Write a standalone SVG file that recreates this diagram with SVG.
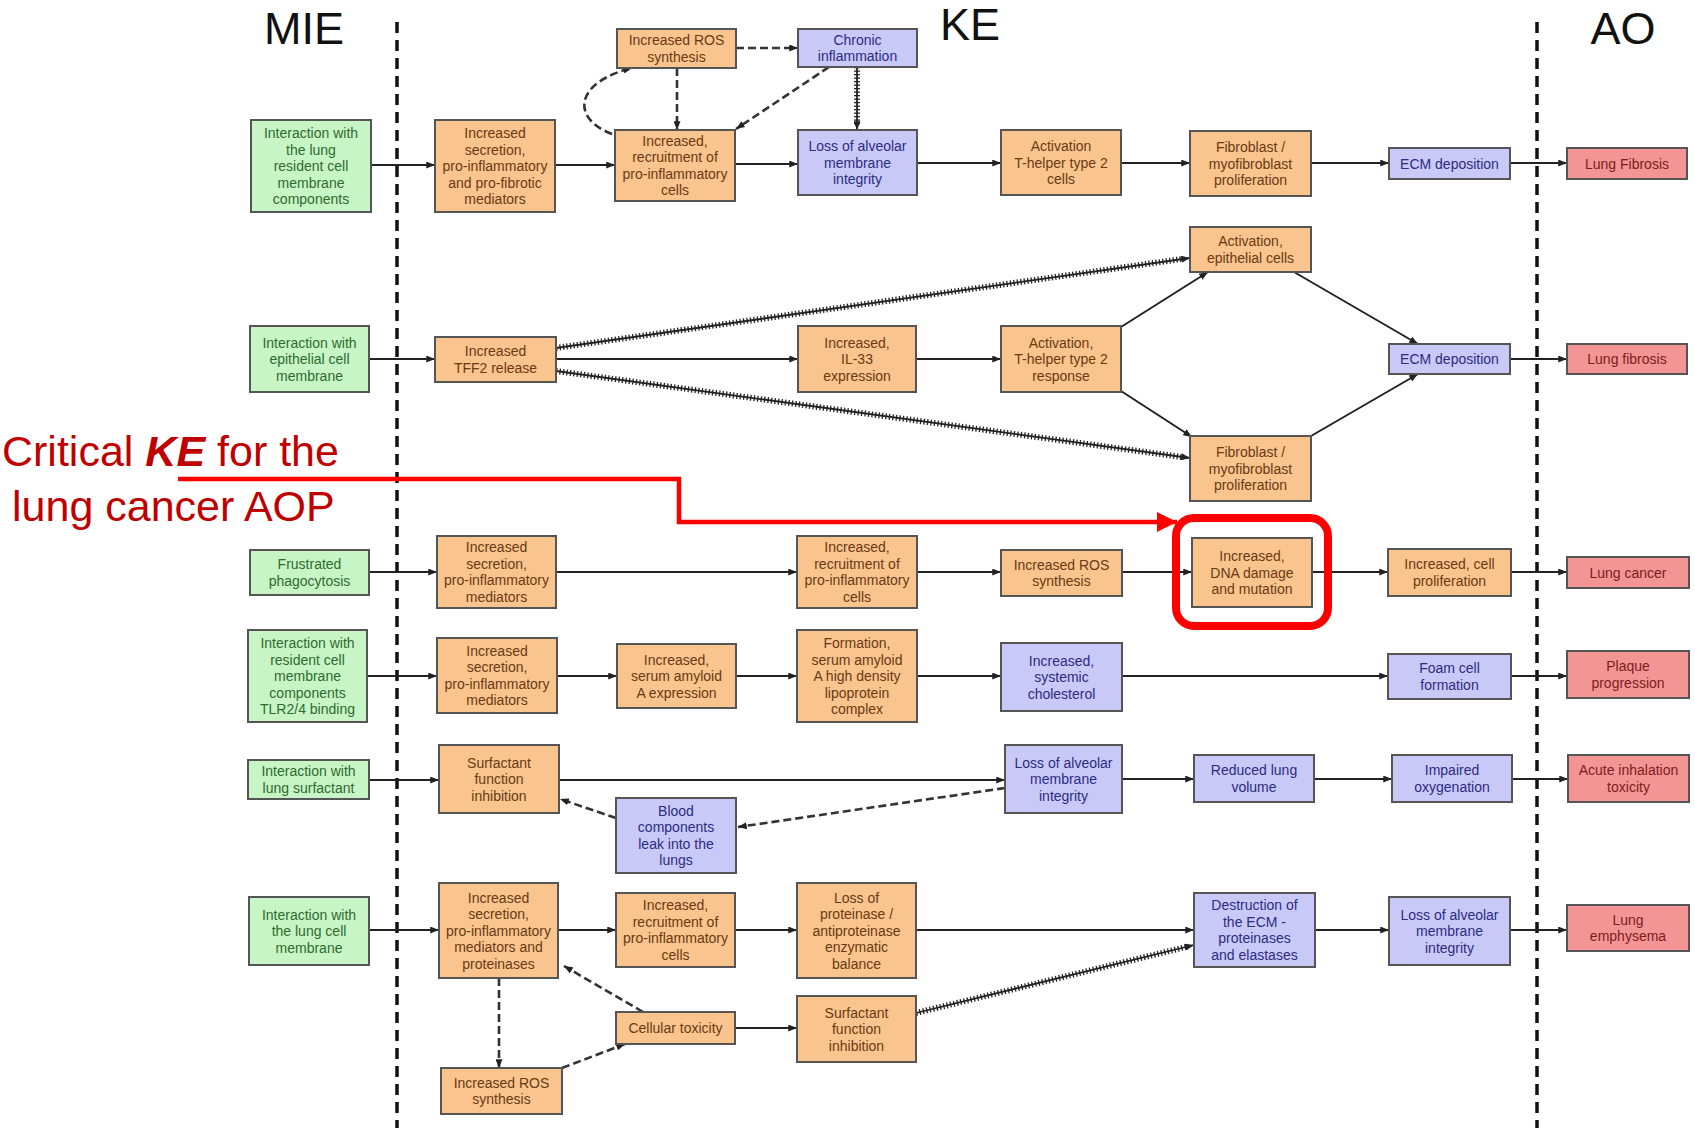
<svg xmlns="http://www.w3.org/2000/svg" width="1695" height="1128" viewBox="0 0 1695 1128">
  <defs>
    <marker id="arr" viewBox="0 0 10 8" refX="10" refY="4" markerWidth="9" markerHeight="7" markerUnits="userSpaceOnUse" orient="auto">
      <path d="M0,0 L10,4 L0,8 z" fill="#222"/>
    </marker>
    <marker id="redarr" viewBox="0 0 10 10" refX="10" refY="5" markerWidth="22" markerHeight="20" markerUnits="userSpaceOnUse" orient="auto">
      <path d="M0,0 L10,5 L0,10 z" fill="#ff0000"/>
    </marker>
    <style>
      .box rect { stroke: #555; stroke-width: 2; }
      .box text { font-family: "Liberation Sans", Arial, sans-serif; font-size: 14px; text-anchor: middle; }
      .mie rect { fill: #c8f5c6; }
      .mie text { fill: #2e6b2e; }
      .ke rect { fill: #f9c48e; }
      .ke text { fill: #6a3a12; }
      .kb rect { fill: #c9c9f7; }
      .kb text { fill: #2c2c82; }
      .ao rect { fill: #f49595; }
      .ao text { fill: #7d1c1c; }
      .ln { fill: none; stroke: #222; stroke-width: 2; marker-end: url(#arr); }
      .dsh { fill: none; stroke: #333; stroke-width: 2.6; stroke-dasharray: 8 4; marker-end: url(#arr); }
      .hat { fill: none; stroke: #222; stroke-width: 1.8; marker-end: url(#arr); }
      .tick { fill: none; stroke: #222; stroke-width: 6; stroke-dasharray: 1.3 2.2; }
      .sep { stroke: #111; stroke-width: 3.5; stroke-dasharray: 11 7; }
      .hdr { font-family: "Liberation Sans", Arial, sans-serif; font-size: 45px; fill: #111; text-anchor: middle; }
      .note { font-family: "Liberation Sans", Arial, sans-serif; font-size: 43px; fill: #c00000; }
    </style>
  </defs>

  <rect width="1695" height="1128" fill="#ffffff"/>

  <!-- column headings and separators -->
  <text class="hdr" x="304" y="44">MIE</text>
  <text class="hdr" x="970" y="40">KE</text>
  <text class="hdr" x="1623" y="44">AO</text>
  <line class="sep" x1="397" y1="22" x2="397" y2="1128"/>
  <line class="sep" x1="1537" y1="22" x2="1537" y2="1128"/>

  <!-- connectors -->
  <g id="connectors">
    <!-- row 1: lung fibrosis -->
    <path class="ln" d="M371,165 H435"/>
    <path class="ln" d="M555,165 H615"/>
    <path class="ln" d="M735,164 H798"/>
    <path class="ln" d="M917,163 H1001"/>
    <path class="ln" d="M1121,163 H1190"/>
    <path class="ln" d="M1311,163 H1389"/>
    <path class="ln" d="M1510,163 H1567"/>
    <path class="dsh" d="M736,48 H798"/>
    <path class="dsh" d="M677,68 V130"/>
    <path class="dsh" d="M612,134 C570,118 575,82 632,68"/>
    <path class="dsh" d="M829,67 L736,129"/>
    <path class="tick" d="M857,67 V126"/>
    <path class="hat" d="M857,67 V130"/>

    <!-- row 2: lung fibrosis (TFF2) -->
    <path class="ln" d="M369,359 H435"/>
    <path class="ln" d="M556,359 H798"/>
    <path class="ln" d="M916,359 H1001"/>
    <path class="tick" d="M556,348 L1182,259"/>
    <path class="hat" d="M556,348 L1190,258"/>
    <path class="tick" d="M556,371 L1182,457"/>
    <path class="hat" d="M556,371 L1190,458"/>
    <path class="ln" d="M1121,327 L1208,272"/>
    <path class="ln" d="M1121,391 L1192,437"/>
    <path class="ln" d="M1294,272 L1418,344"/>
    <path class="ln" d="M1311,436 L1418,374"/>
    <path class="ln" d="M1510,359 H1567"/>

    <!-- row 3: lung cancer -->
    <path class="ln" d="M369,572 H437"/>
    <path class="ln" d="M556,572 H797"/>
    <path class="ln" d="M917,572 H1001"/>
    <path class="ln" d="M1122,572 H1192"/>
    <path class="ln" d="M1312,572 H1388"/>
    <path class="ln" d="M1511,572 H1567"/>

    <!-- row 4: plaque progression -->
    <path class="ln" d="M367,676 H437"/>
    <path class="ln" d="M557,676 H617"/>
    <path class="ln" d="M736,676 H797"/>
    <path class="ln" d="M917,676 H1001"/>
    <path class="ln" d="M1122,676 H1388"/>
    <path class="ln" d="M1511,676 H1567"/>

    <!-- row 5: acute inhalation toxicity -->
    <path class="ln" d="M369,780 H439"/>
    <path class="ln" d="M559,780 H1005"/>
    <path class="ln" d="M1122,779 H1194"/>
    <path class="ln" d="M1314,779 H1392"/>
    <path class="ln" d="M1512,779 H1568"/>
    <path class="dsh" d="M1005,788 L738,827"/>
    <path class="dsh" d="M616,818 L560,799"/>

    <!-- row 6: lung emphysema -->
    <path class="ln" d="M369,930 H439"/>
    <path class="ln" d="M558,930 H616"/>
    <path class="ln" d="M735,930 H797"/>
    <path class="ln" d="M916,930 H1194"/>
    <path class="ln" d="M1315,930 H1389"/>
    <path class="ln" d="M1510,930 H1567"/>
    <path class="dsh" d="M499,978 V1068"/>
    <path class="dsh" d="M643,1012 L564,966"/>
    <path class="dsh" d="M562,1068 L625,1044"/>
    <path class="ln" d="M735,1028 H797"/>
    <path class="tick" d="M916,1013 L1186,947"/>
    <path class="hat" d="M916,1013 L1194,945"/>
  </g>

  <!-- row 1 -->
  <g id="n1a" class="box mie"><rect x="251" y="120" width="120" height="92"/>
    <text x="311" y="138"><tspan x="311">Interaction with</tspan><tspan x="311" dy="16.5">the lung</tspan><tspan x="311" dy="16.5">resident cell</tspan><tspan x="311" dy="16.5">membrane</tspan><tspan x="311" dy="16.5">components</tspan></text></g>
  <g id="n1b" class="box ke"><rect x="435" y="120" width="120" height="92"/>
    <text x="495" y="138"><tspan x="495">Increased</tspan><tspan x="495" dy="16.5">secretion,</tspan><tspan x="495" dy="16.5">pro-inflammatory</tspan><tspan x="495" dy="16.5">and pro-fibrotic</tspan><tspan x="495" dy="16.5">mediators</tspan></text></g>
  <g id="n1c" class="box ke"><rect x="617" y="29" width="119" height="39"/>
    <text x="676.5" y="45.25"><tspan x="676.5">Increased ROS</tspan><tspan x="676.5" dy="16.5">synthesis</tspan></text></g>
  <g id="n1d" class="box kb"><rect x="798" y="29" width="119" height="38"/>
    <text x="857.5" y="44.75"><tspan x="857.5">Chronic</tspan><tspan x="857.5" dy="16.5">inflammation</tspan></text></g>
  <g id="n1e" class="box ke"><rect x="615" y="130" width="120" height="71"/>
    <text x="675" y="145.75"><tspan x="675">Increased,</tspan><tspan x="675" dy="16.5">recruitment of</tspan><tspan x="675" dy="16.5">pro-inflammatory</tspan><tspan x="675" dy="16.5">cells</tspan></text></g>
  <g id="n1f" class="box kb"><rect x="798" y="130" width="119" height="65"/>
    <text x="857.5" y="151"><tspan x="857.5">Loss of alveolar</tspan><tspan x="857.5" dy="16.5">membrane</tspan><tspan x="857.5" dy="16.5">integrity</tspan></text></g>
  <g id="n1g" class="box ke"><rect x="1001" y="130" width="120" height="65"/>
    <text x="1061" y="151"><tspan x="1061">Activation</tspan><tspan x="1061" dy="16.5">T-helper type 2</tspan><tspan x="1061" dy="16.5">cells</tspan></text></g>
  <g id="n1h" class="box ke"><rect x="1190" y="131" width="121" height="65"/>
    <text x="1250.5" y="152"><tspan x="1250.5">Fibroblast /</tspan><tspan x="1250.5" dy="16.5">myofibroblast</tspan><tspan x="1250.5" dy="16.5">proliferation</tspan></text></g>
  <g id="n1i" class="box kb"><rect x="1389" y="148" width="121" height="31"/>
    <text x="1449.5" y="168.5">ECM deposition</text></g>
  <g id="n1j" class="box ao"><rect x="1567" y="148" width="120" height="31"/>
    <text x="1627" y="168.5">Lung Fibrosis</text></g>

  <!-- row 2 -->
  <g id="n2a" class="box mie"><rect x="250" y="326" width="119" height="66"/>
    <text x="309.5" y="347.5"><tspan x="309.5">Interaction with</tspan><tspan x="309.5" dy="16.5">epithelial cell</tspan><tspan x="309.5" dy="16.5">membrane</tspan></text></g>
  <g id="n2b" class="box ke"><rect x="435" y="337" width="121" height="45"/>
    <text x="495.5" y="356.25"><tspan x="495.5">Increased</tspan><tspan x="495.5" dy="16.5">TFF2 release</tspan></text></g>
  <g id="n2c" class="box ke"><rect x="798" y="326" width="118" height="66"/>
    <text x="857" y="347.5"><tspan x="857">Increased,</tspan><tspan x="857" dy="16.5">IL-33</tspan><tspan x="857" dy="16.5">expression</tspan></text></g>
  <g id="n2d" class="box ke"><rect x="1001" y="326" width="120" height="66"/>
    <text x="1061" y="347.5"><tspan x="1061">Activation,</tspan><tspan x="1061" dy="16.5">T-helper type 2</tspan><tspan x="1061" dy="16.5">response</tspan></text></g>
  <g id="n2e" class="box ke"><rect x="1190" y="227" width="121" height="45"/>
    <text x="1250.5" y="246.25"><tspan x="1250.5">Activation,</tspan><tspan x="1250.5" dy="16.5">epithelial cells</tspan></text></g>
  <g id="n2f" class="box ke"><rect x="1190" y="436" width="121" height="65"/>
    <text x="1250.5" y="457"><tspan x="1250.5">Fibroblast /</tspan><tspan x="1250.5" dy="16.5">myofibroblast</tspan><tspan x="1250.5" dy="16.5">proliferation</tspan></text></g>
  <g id="n2g" class="box kb"><rect x="1389" y="344" width="121" height="30"/>
    <text x="1449.5" y="364">ECM deposition</text></g>
  <g id="n2h" class="box ao"><rect x="1567" y="344" width="120" height="30"/>
    <text x="1627" y="364">Lung fibrosis</text></g>

  <!-- row 3 -->
  <g id="n3a" class="box mie"><rect x="250" y="550" width="119" height="45"/>
    <text x="309.5" y="569.25"><tspan x="309.5">Frustrated</tspan><tspan x="309.5" dy="16.5">phagocytosis</tspan></text></g>
  <g id="n3b" class="box ke"><rect x="437" y="536" width="119" height="72"/>
    <text x="496.5" y="552.25"><tspan x="496.5">Increased</tspan><tspan x="496.5" dy="16.5">secretion,</tspan><tspan x="496.5" dy="16.5">pro-inflammatory</tspan><tspan x="496.5" dy="16.5">mediators</tspan></text></g>
  <g id="n3c" class="box ke"><rect x="797" y="536" width="120" height="72"/>
    <text x="857" y="552.25"><tspan x="857">Increased,</tspan><tspan x="857" dy="16.5">recruitment of</tspan><tspan x="857" dy="16.5">pro-inflammatory</tspan><tspan x="857" dy="16.5">cells</tspan></text></g>
  <g id="n3d" class="box ke"><rect x="1001" y="550" width="121" height="46"/>
    <text x="1061.5" y="569.75"><tspan x="1061.5">Increased ROS</tspan><tspan x="1061.5" dy="16.5">synthesis</tspan></text></g>
  <g id="n3e" class="box ke"><rect x="1192" y="538" width="120" height="69"/>
    <text x="1252" y="561"><tspan x="1252">Increased,</tspan><tspan x="1252" dy="16.5">DNA damage</tspan><tspan x="1252" dy="16.5">and mutation</tspan></text></g>
  <g id="n3f" class="box ke"><rect x="1388" y="549" width="123" height="47"/>
    <text x="1449.5" y="569.25"><tspan x="1449.5">Increased, cell</tspan><tspan x="1449.5" dy="16.5">proliferation</tspan></text></g>
  <g id="n3g" class="box ao"><rect x="1567" y="557" width="122" height="31"/>
    <text x="1628" y="577.5">Lung cancer</text></g>

  <!-- row 4 -->
  <g id="n4a" class="box mie"><rect x="248" y="630" width="119" height="92"/>
    <text x="307.5" y="648"><tspan x="307.5">Interaction with</tspan><tspan x="307.5" dy="16.5">resident cell</tspan><tspan x="307.5" dy="16.5">membrane</tspan><tspan x="307.5" dy="16.5">components</tspan><tspan x="307.5" dy="16.5">TLR2/4 binding</tspan></text></g>
  <g id="n4b" class="box ke"><rect x="437" y="638" width="120" height="75"/>
    <text x="497" y="655.75"><tspan x="497">Increased</tspan><tspan x="497" dy="16.5">secretion,</tspan><tspan x="497" dy="16.5">pro-inflammatory</tspan><tspan x="497" dy="16.5">mediators</tspan></text></g>
  <g id="n4c" class="box ke"><rect x="617" y="644" width="119" height="64"/>
    <text x="676.5" y="664.5"><tspan x="676.5">Increased,</tspan><tspan x="676.5" dy="16.5">serum amyloid</tspan><tspan x="676.5" dy="16.5">A expression</tspan></text></g>
  <g id="n4d" class="box ke"><rect x="797" y="630" width="120" height="92"/>
    <text x="857" y="648"><tspan x="857">Formation,</tspan><tspan x="857" dy="16.5">serum amyloid</tspan><tspan x="857" dy="16.5">A high density</tspan><tspan x="857" dy="16.5">lipoprotein</tspan><tspan x="857" dy="16.5">complex</tspan></text></g>
  <g id="n4e" class="box kb"><rect x="1001" y="643" width="121" height="68"/>
    <text x="1061.5" y="665.5"><tspan x="1061.5">Increased,</tspan><tspan x="1061.5" dy="16.5">systemic</tspan><tspan x="1061.5" dy="16.5">cholesterol</tspan></text></g>
  <g id="n4f" class="box kb"><rect x="1388" y="654" width="123" height="45"/>
    <text x="1449.5" y="673.25"><tspan x="1449.5">Foam cell</tspan><tspan x="1449.5" dy="16.5">formation</tspan></text></g>
  <g id="n4g" class="box ao"><rect x="1567" y="651" width="122" height="47"/>
    <text x="1628" y="671.25"><tspan x="1628">Plaque</tspan><tspan x="1628" dy="16.5">progression</tspan></text></g>

  <!-- row 5 -->
  <g id="n5a" class="box mie"><rect x="248" y="760" width="121" height="39"/>
    <text x="308.5" y="776.25"><tspan x="308.5">Interaction with</tspan><tspan x="308.5" dy="16.5">lung surfactant</tspan></text></g>
  <g id="n5b" class="box ke"><rect x="439" y="745" width="120" height="68"/>
    <text x="499" y="767.5"><tspan x="499">Surfactant</tspan><tspan x="499" dy="16.5">function</tspan><tspan x="499" dy="16.5">inhibition</tspan></text></g>
  <g id="n5c" class="box kb"><rect x="616" y="798" width="120" height="75"/>
    <text x="676" y="815.75"><tspan x="676">Blood</tspan><tspan x="676" dy="16.5">components</tspan><tspan x="676" dy="16.5">leak into the</tspan><tspan x="676" dy="16.5">lungs</tspan></text></g>
  <g id="n5d" class="box kb"><rect x="1005" y="745" width="117" height="68"/>
    <text x="1063.5" y="767.5"><tspan x="1063.5">Loss of alveolar</tspan><tspan x="1063.5" dy="16.5">membrane</tspan><tspan x="1063.5" dy="16.5">integrity</tspan></text></g>
  <g id="n5e" class="box kb"><rect x="1194" y="755" width="120" height="47"/>
    <text x="1254" y="775.25"><tspan x="1254">Reduced lung</tspan><tspan x="1254" dy="16.5">volume</tspan></text></g>
  <g id="n5f" class="box kb"><rect x="1392" y="755" width="120" height="47"/>
    <text x="1452" y="775.25"><tspan x="1452">Impaired</tspan><tspan x="1452" dy="16.5">oxygenation</tspan></text></g>
  <g id="n5g" class="box ao"><rect x="1568" y="755" width="121" height="47"/>
    <text x="1628.5" y="775.25"><tspan x="1628.5">Acute inhalation</tspan><tspan x="1628.5" dy="16.5">toxicity</tspan></text></g>

  <!-- row 6 -->
  <g id="n6a" class="box mie"><rect x="249" y="897" width="120" height="68"/>
    <text x="309" y="919.5"><tspan x="309">Interaction with</tspan><tspan x="309" dy="16.5">the lung cell</tspan><tspan x="309" dy="16.5">membrane</tspan></text></g>
  <g id="n6b" class="box ke"><rect x="439" y="883" width="119" height="95"/>
    <text x="498.5" y="902.5"><tspan x="498.5">Increased</tspan><tspan x="498.5" dy="16.5">secretion,</tspan><tspan x="498.5" dy="16.5">pro-inflammatory</tspan><tspan x="498.5" dy="16.5">mediators and</tspan><tspan x="498.5" dy="16.5">proteinases</tspan></text></g>
  <g id="n6c" class="box ke"><rect x="616" y="893" width="119" height="74"/>
    <text x="675.5" y="910.25"><tspan x="675.5">Increased,</tspan><tspan x="675.5" dy="16.5">recruitment of</tspan><tspan x="675.5" dy="16.5">pro-inflammatory</tspan><tspan x="675.5" dy="16.5">cells</tspan></text></g>
  <g id="n6d" class="box ke"><rect x="797" y="883" width="119" height="95"/>
    <text x="856.5" y="902.5"><tspan x="856.5">Loss of</tspan><tspan x="856.5" dy="16.5">proteinase /</tspan><tspan x="856.5" dy="16.5">antiproteinase</tspan><tspan x="856.5" dy="16.5">enzymatic</tspan><tspan x="856.5" dy="16.5">balance</tspan></text></g>
  <g id="n6e" class="box ke"><rect x="616" y="1012" width="119" height="32"/>
    <text x="675.5" y="1033">Cellular toxicity</text></g>
  <g id="n6f" class="box ke"><rect x="797" y="996" width="119" height="66"/>
    <text x="856.5" y="1017.5"><tspan x="856.5">Surfactant</tspan><tspan x="856.5" dy="16.5">function</tspan><tspan x="856.5" dy="16.5">inhibition</tspan></text></g>
  <g id="n6g" class="box ke"><rect x="441" y="1068" width="121" height="46"/>
    <text x="501.5" y="1087.75"><tspan x="501.5">Increased ROS</tspan><tspan x="501.5" dy="16.5">synthesis</tspan></text></g>
  <g id="n6h" class="box kb"><rect x="1194" y="893" width="121" height="74"/>
    <text x="1254.5" y="910.25"><tspan x="1254.5">Destruction of</tspan><tspan x="1254.5" dy="16.5">the ECM -</tspan><tspan x="1254.5" dy="16.5">proteinases</tspan><tspan x="1254.5" dy="16.5">and elastases</tspan></text></g>
  <g id="n6i" class="box kb"><rect x="1389" y="897" width="121" height="68"/>
    <text x="1449.5" y="919.5"><tspan x="1449.5">Loss of alveolar</tspan><tspan x="1449.5" dy="16.5">membrane</tspan><tspan x="1449.5" dy="16.5">integrity</tspan></text></g>
  <g id="n6j" class="box ao"><rect x="1567" y="905" width="122" height="46"/>
    <text x="1628" y="924.75"><tspan x="1628">Lung</tspan><tspan x="1628" dy="16.5">emphysema</tspan></text></g>

  <!-- highlight of the critical key event -->
  <g id="critical-callout">
    <text class="note" x="2" y="466">Critical <tspan font-weight="bold" font-style="italic">KE</tspan> for the</text>
    <text class="note" x="12" y="521">lung cancer AOP</text>
    <path d="M178,479 H679 V522 H1177" fill="none" stroke="#ff0000" stroke-width="4.5" marker-end="url(#redarr)"/>
    <rect x="1176" y="518" width="152" height="108" rx="18" fill="none" stroke="#ff0000" stroke-width="8"/>
  </g>
</svg>
